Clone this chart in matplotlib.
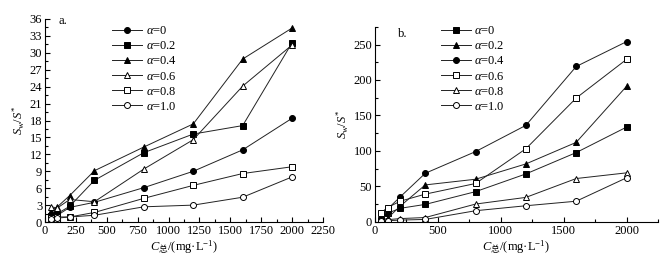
import matplotlib
matplotlib.use('Agg')
import matplotlib.pyplot as plt
from matplotlib.ticker import MultipleLocator

plt.rcParams['font.family'] = ['Liberation Serif', 'Noto Sans CJK SC', 'DejaVu Sans']
plt.rcParams['mathtext.fontset'] = 'custom'
plt.rcParams['mathtext.rm'] = 'Liberation Serif'
plt.rcParams['mathtext.it'] = 'Liberation Serif:italic'
plt.rcParams['mathtext.sf'] = 'Noto Sans CJK SC'
plt.rcParams['font.size'] = 9

conc = [50, 100, 200, 400, 800, 1200, 1600, 2000]
alpha_labels = ['0', '0.2', '0.4', '0.6', '0.8', '1.0']

# panel a
a_vals = [
    [0.8, 1.2, 2.6, 3.5, 6.1, 9.0, 12.8, 18.4],
    [1.0, 1.5, 2.8, 7.4, 12.3, 15.6, 17.1, 31.8],
    [2.0, 2.7, 4.7, 9.1, 13.3, 17.4, 28.9, 34.4],
    [2.7, 2.5, 4.0, 3.6, 9.4, 14.6, 24.1, 31.4],
    [0.8, 0.9, 0.9, 1.7, 4.2, 6.5, 8.6, 9.8],
    [0.6, 0.7, 0.9, 1.2, 2.7, 3.0, 4.4, 8.0],
]
a_markers = [('o', 'k'), ('s', 'k'), ('^', 'k'), ('^', 'w'), ('s', 'w'), ('o', 'w')]

# panel b
b_vals = [
    [2, 12, 19, 24.5, 42.5, 67.5, 97.6, 133.5],
    [2, 5, 22, 52, 60, 81.6, 112, 191],
    [3, 18, 35, 68.4, 99, 136, 219, 254],
    [13, 20, 29, 39, 54, 103, 174.5, 229],
    [1, 3, 4.5, 6, 25, 34.4, 61, 69],
    [1, 1.5, 2.4, 3.3, 15.6, 22.6, 29, 62],
]
b_markers = [('s', 'k'), ('^', 'k'), ('o', 'k'), ('s', 'w'), ('^', 'w'), ('o', 'w')]

fig = plt.figure(figsize=(6.69, 2.60), dpi=100)
ax1 = fig.add_axes([0.0673, 0.146, 0.4155, 0.781])
ax2 = fig.add_axes([0.5605, 0.147, 0.423, 0.750])


def draw(ax, vals, markers):
    for v, (m, fc), lab in zip(vals, markers, alpha_labels):
        ax.plot(conc, v, color='#222222', lw=0.7, marker=m, ms=4.3,
                mfc=fc, mec='k', mew=0.7, label=r'$\alpha$=' + lab)
    for s in ['top', 'right']:
        ax.spines[s].set_visible(False)
    ax.tick_params(which='both', direction='in', width=0.8, pad=2)
    ax.tick_params(which='major', length=3.5)
    ax.tick_params(which='minor', length=2)
    ax.set_xlabel(r'$C_{\mathsf{总}}$/(mg·L$^{-1}$)', labelpad=1)
    ax.set_ylabel(r'$S_{\rm w}/S^{*}$', labelpad=2)


draw(ax1, a_vals, a_markers)
ax1.set_xlim(0, 2250)
ax1.set_ylim(0, 36)
ax1.xaxis.set_major_locator(MultipleLocator(250))
ax1.xaxis.set_minor_locator(MultipleLocator(125))
ax1.yaxis.set_major_locator(MultipleLocator(3))
ax1.yaxis.set_minor_locator(MultipleLocator(1.5))
ax1.text(0.05, 1.02, 'a.', transform=ax1.transAxes, va='top')
ax1.legend(loc='upper left', bbox_to_anchor=(0.22, 1.0), frameon=False,
           borderpad=0, labelspacing=0.25, handlelength=2.4, handletextpad=0.3)

draw(ax2, b_vals, b_markers)
ax2.set_xlim(0, 2250)
ax2.set_ylim(0, 275)
ax2.xaxis.set_major_locator(MultipleLocator(500))
ax2.xaxis.set_minor_locator(MultipleLocator(250))
ax2.yaxis.set_major_locator(MultipleLocator(50))
ax2.yaxis.set_minor_locator(MultipleLocator(25))
ax2.xaxis.set_ticks([0, 500, 1000, 1500, 2000])
ax2.text(0.08, 0.995, 'b.', transform=ax2.transAxes, va='top')
ax2.legend(loc='upper left', bbox_to_anchor=(0.21, 1.04), frameon=False,
           borderpad=0, labelspacing=0.25, handlelength=2.4, handletextpad=0.3)

fig.savefig('out.png', dpi=100)
